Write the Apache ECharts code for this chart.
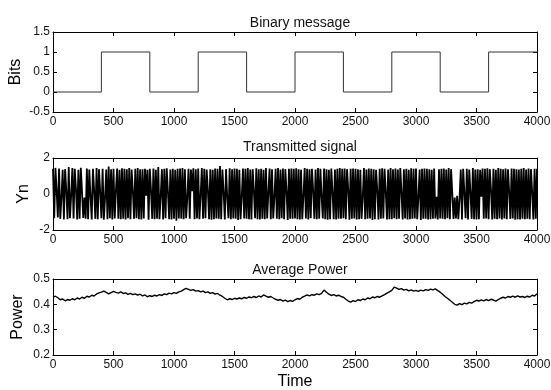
<!DOCTYPE html>
<html><head><meta charset="utf-8">
<script src="https://cdn.jsdelivr.net/npm/echarts@6/dist/echarts.min.js"></script>
<style>html,body{margin:0;padding:0;background:#fff}#c{width:551px;height:390px}</style>
</head><body><div id="c"></div>
<script>
// ---- data ----
const xTicks = [0, 500, 1000, 1500, 2000, 2500, 3000, 3500, 4000];
const titles = ['Binary message', 'Transmitted signal', 'Average Power'];
const yNames = ['Bits', 'Yn', 'Power'];
const xName = 'Time';

// binary message: bit value held from each start time
const bitTimes = [0, 400, 800, 1200, 1600, 2000, 2400, 2800, 3200, 3600, 4000];
const bits     = [0, 1, 0, 1, 0, 1, 0, 1, 0, 1, 1];

// transmitted signal, one reading every 10 samples
const signalStep = 10;
const signal = [
 1.4,-1.35,1.45,0.2,-1.3,1.42,-1.38,-0.2,1.35,-1.42,
 1.38,0.15,-1.4,1.5,-1.35,-0.1,1.44,-1.36,1.4,0.25,
 -1.42,1.35,-1.38,1.46,0.1,-1.33,-0.2,-1.37,1.42,-1.4,
 1.36,-0.15,-1.42,1.4,0.2,-1.38,1.44,-1.4,1.38,0.1,
 -1.35,1.4,-1.43,-0.25,1.36,-1.4,1.52,-1.35,1.38,-1.42,
 1.4,-1.36,0.2,1.42,-1.38,1.35,-1.4,1.43,-1.37,1.4,
 -1.42,1.38,-1.35,1.44,-1.4,1.36,0.15,-1.38,1.4,-1.35,
 1.45,-1.4,1.37,-1.42,1.38,-1.36,1.4,-0.1,1.35,-1.43,
 1.4,0.2,-1.38,1.42,-1.4,1.35,-1.37,1.5,-1.4,-0.15,
 1.38,-1.42,1.4,-1.35,1.43,0.1,-1.4,1.36,-1.42,1.4,
 -1.38,1.35,-1.48,1.4,-1.36,1.42,-1.38,1.45,-1.4,1.37,
 -1.35,-0.2,1.4,-1.38,1.36,0.15,1.43,-1.4,1.38,-1.36,
 1.42,-1.4,-0.1,1.44,-1.38,1.4,-1.35,1.36,0.2,-1.4,
 1.38,-1.43,1.35,-1.4,1.42,-1.36,1.4,-1.38,1.55,-1.4,
 1.36,0.1,-1.42,1.38,-0.2,-1.35,1.43,-1.4,1.38,-1.36,
 1.42,-1.38,1.4,-1.44,1.35,-1.4,-0.15,1.42,-1.36,1.4,
 -1.38,1.45,-1.4,1.36,-1.42,1.38,0.2,-1.35,1.43,-1.4,
 1.37,-1.42,1.4,-1.38,1.35,-1.4,1.44,-1.36,0.1,1.42,
 -1.4,1.38,-1.36,-0.2,1.4,-1.38,1.45,-1.4,1.36,-1.35,
 1.42,-1.4,1.38,0.15,-1.44,1.4,-1.37,1.42,-1.38,1.4,
 -1.36,1.43,-1.4,1.38,-1.42,1.35,-1.4,-0.1,1.44,-1.36,
 1.4,-1.42,1.38,-1.35,1.4,0.2,-1.38,1.36,-1.4,1.45,
 -1.38,1.4,-0.15,-1.36,1.42,-1.4,1.38,-1.43,1.35,-1.4,
 1.42,0.1,-1.4,1.36,-1.42,1.4,-1.37,1.44,-1.38,1.4,
 -1.35,1.42,-1.4,1.38,0.25,-1.43,1.4,-1.38,1.42,-1.36,
 1.4,-1.42,1.38,-1.4,1.35,-1.38,-0.2,1.44,-1.4,1.36,
 -1.38,1.42,-1.36,1.4,-1.44,1.38,-1.4,1.35,0.2,-1.42,
 1.4,-1.38,1.43,-1.36,1.4,0.15,-1.42,1.36,-1.4,1.45,
 -1.4,1.38,-1.35,1.42,-1.4,1.36,-1.38,1.44,0.1,-1.42,
 1.38,-1.36,1.4,-1.42,1.35,-1.4,1.43,-1.38,1.4,-1.36,
 1.42,-1.4,-0.2,1.36,-1.44,1.4,-1.37,1.42,-1.38,1.4,
 -1.42,1.38,-1.4,1.35,-1.38,1.42,-1.36,-0.15,-1.42,1.38,
 -1.36,1.4,-1.38,1.42,-1.4,1.36,-1.35,1.44,-1.4,1.38,
 1.42,-1.38,-0.2,-1.36,-0.1,-1.4,-0.25,1.36,-1.42,1.4,
 1.38,-1.35,1.4,-1.42,1.36,0.1,-1.38,1.44,-1.4,1.36,
 -1.42,1.38,-1.4,1.35,-0.15,1.42,-1.38,1.4,-1.36,1.43,
 -1.4,1.38,0.2,-1.42,1.4,-1.38,1.35,-1.4,1.44,-1.36,
 1.4,-1.42,1.38,-1.36,1.42,-1.4,1.37,0.15,-1.38,1.42,
 -1.36,1.4,-1.43,1.38,-1.4,1.36,-1.42,1.4,-1.38,1.45,
 -1.4,1.36,-1.38,1.42,-1.4,1.38,0.1,-1.42,1.4,-1.38,
 1.4
];

// average power, one reading every 20 samples
const powerStep = 20;
const power = [
 0.428,0.432,0.426,0.418,0.421,0.414,0.419,0.416,0.422,0.418,
 0.425,0.421,0.428,0.424,0.432,0.429,0.436,0.433,0.441,0.445,
 0.448,0.452,0.447,0.441,0.446,0.451,0.447,0.444,0.449,0.443,
 0.445,0.439,0.443,0.438,0.441,0.436,0.440,0.433,0.437,0.430,
 0.434,0.431,0.436,0.433,0.438,0.435,0.441,0.438,0.444,0.441,
 0.446,0.443,0.449,0.452,0.458,0.463,0.459,0.455,0.458,0.452,
 0.454,0.449,0.452,0.446,0.449,0.443,0.446,0.440,0.443,0.436,
 0.431,0.424,0.418,0.422,0.419,0.424,0.421,0.425,0.422,0.427,
 0.424,0.429,0.426,0.431,0.427,0.433,0.429,0.437,0.432,0.428,
 0.431,0.425,0.420,0.416,0.419,0.413,0.417,0.411,0.415,0.412,
 0.418,0.423,0.420,0.428,0.432,0.437,0.433,0.438,0.436,0.441,
 0.438,0.443,0.456,0.448,0.440,0.435,0.438,0.433,0.436,0.431,
 0.428,0.420,0.413,0.409,0.415,0.411,0.418,0.415,0.421,0.418,
 0.425,0.422,0.429,0.426,0.431,0.428,0.433,0.438,0.444,0.449,
 0.455,0.468,0.464,0.459,0.462,0.456,0.459,0.453,0.457,0.452,
 0.455,0.451,0.456,0.453,0.458,0.455,0.460,0.457,0.461,0.454,
 0.448,0.440,0.431,0.424,0.416,0.408,0.400,0.397,0.403,0.399,
 0.405,0.402,0.408,0.405,0.411,0.416,0.413,0.418,0.414,0.419,
 0.415,0.420,0.417,0.413,0.419,0.424,0.428,0.425,0.431,0.428,
 0.432,0.428,0.433,0.429,0.431,0.427,0.432,0.429,0.436,0.433,
 0.442
];

const yMin = [-0.5, -2, 0.2];
const yMax = [1.5, 2, 0.5];
const yInterval = [0.5, 2, 0.1];

// ---- chart ----
const FONT = 'Liberation Sans, Arial, Helvetica, sans-serif';
const grids = [
  {left: 53, right: 14, top: 32, height: 80, outerBoundsMode: 'none', containLabel: false},
  {left: 53, right: 14, top: 158, height: 72, outerBoundsMode: 'none', containLabel: false},
  {left: 53, right: 14, top: 279, height: 76, outerBoundsMode: 'none', containLabel: false}
];
const lineAxis = {show: true, onZero: false, lineStyle: {color: '#000', width: 1}};
const tick = {show: true, inside: true, length: 4, lineStyle: {color: '#000'}};
const nameGaps = [29, 21, 27];

const xAxis = [], yAxis = [];
grids.forEach((g, i) => {
  xAxis.push({
    type: 'value', gridIndex: i, min: xTicks[0], max: xTicks[xTicks.length - 1], interval: 500, position: 'bottom',
    axisLine: lineAxis, axisTick: tick, splitLine: {show: false},
    axisLabel: {color: '#111', fontSize: 12, fontFamily: FONT, margin: 4, formatter: v => String(v)},
    name: i === 2 ? xName : '', nameLocation: 'middle', nameGap: 19,
    nameTextStyle: {color: '#000', fontSize: 16, fontFamily: FONT}
  });
  xAxis.push({
    type: 'value', gridIndex: i, min: xTicks[0], max: xTicks[xTicks.length - 1], interval: 500, position: 'top',
    axisLine: lineAxis, axisTick: tick, splitLine: {show: false}, axisLabel: {show: false}
  });
  yAxis.push({
    type: 'value', gridIndex: i, min: yMin[i], max: yMax[i], interval: yInterval[i], position: 'left',
    axisLine: lineAxis, axisTick: tick, splitLine: {show: false},
    axisLabel: {color: '#111', fontSize: 12, fontFamily: FONT, margin: 3, formatter: v => String(+v.toFixed(2))},
    name: yNames[i], nameLocation: 'middle', nameRotate: 90, nameGap: nameGaps[i],
    nameMoveOverlap: false,
    nameTextStyle: {color: '#000', fontSize: 16, fontFamily: FONT}
  });
  yAxis.push({
    type: 'value', gridIndex: i, min: yMin[i], max: yMax[i], interval: yInterval[i], position: 'right',
    axisLine: lineAxis, axisTick: tick, splitLine: {show: false}, axisLabel: {show: false}
  });
});

const bitData = bitTimes.map((t, k) => [t, bits[k]]);
const signalData = signal.map((v, k) => [k * signalStep, v]);
const powerData = power.map((v, k) => [k * powerStep, v]);

const title = titles.map((t, i) => ({
  text: t, left: 295, textAlign: 'center', top: [11, 135, 258][i],
  textStyle: {fontSize: 14, fontWeight: 'normal', color: '#111', fontFamily: FONT}
}));

const chart = echarts.init(document.getElementById('c'), null, {renderer: 'canvas'});
chart.setOption({
  animation: false,
  backgroundColor: '#fff',
  title: title,
  grid: grids,
  xAxis: xAxis,
  yAxis: yAxis,
  series: [
    {type: 'line', xAxisIndex: 0, yAxisIndex: 0, data: bitData, step: 'end', showSymbol: false,
     lineStyle: {color: '#333', width: 1}},
    {type: 'line', xAxisIndex: 2, yAxisIndex: 2, data: signalData, showSymbol: false,
     lineStyle: {color: '#000', width: 1.8}},
    {type: 'line', xAxisIndex: 4, yAxisIndex: 4, data: powerData, showSymbol: false,
     lineStyle: {color: '#000', width: 1.4}}
  ]
});
</script></body></html>
